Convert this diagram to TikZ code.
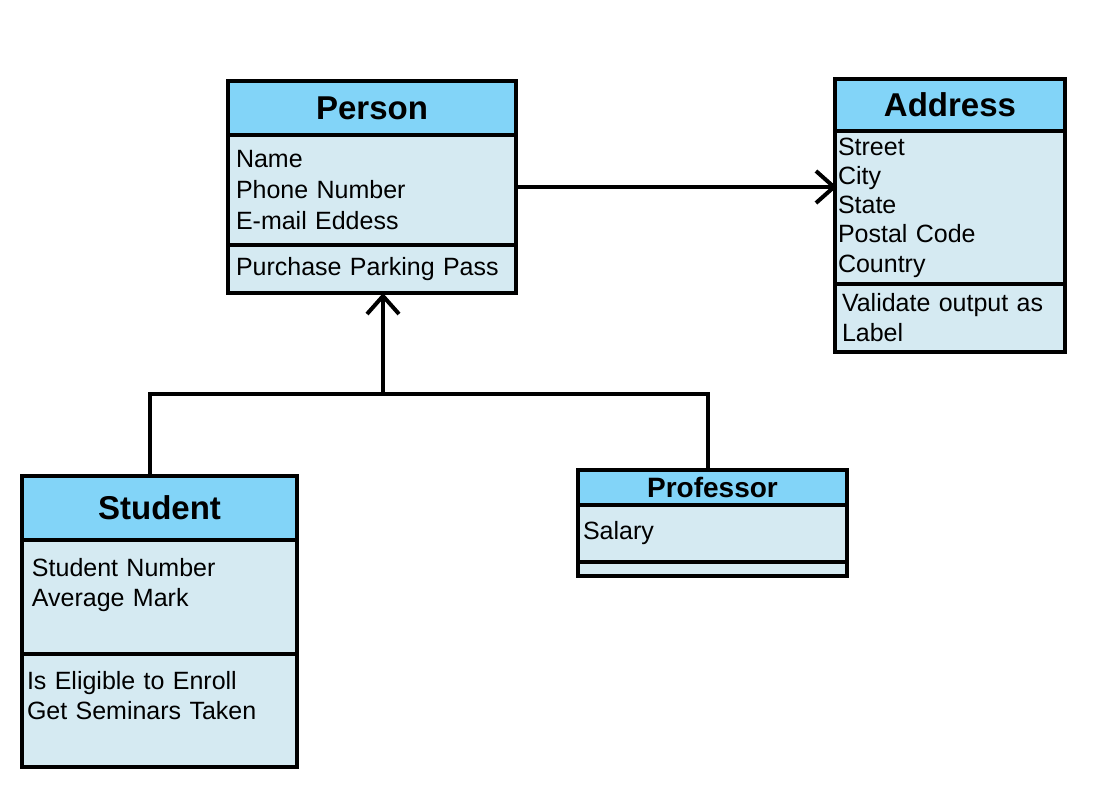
\documentclass[tikz,border=0pt]{standalone}
\usepackage{fontspec}
\setmainfont{Liberation Sans}
\usetikzlibrary{arrows.meta,positioning}
\definecolor{hdrblue}{RGB}{130,212,248}
\definecolor{bodyblue}{RGB}{213,234,242}

\begin{document}
\begin{tikzpicture}[x=0.5pt, y=-0.5pt,
  hdr/.style={draw, line width=2pt, fill=hdrblue, anchor=north, inner sep=0pt,
    outer sep=0pt, font=\fontsize{16.5}{19}\selectfont\bfseries},
  part/.style={draw, line width=2pt, fill=bodyblue, align=left, anchor=north,
    inner ysep=0pt, outer sep=0pt, font=\fontsize{12.5}{15}\selectfont},
  arr/.style={-{Straight Barb[length=9pt,width=16pt]}, line width=2pt},
  link/.style={line width=2pt}
]
\useasboundingbox (0,0) rectangle (1093,799);

% Person
\node[hdr, minimum width=144pt, minimum height=27pt] (phdr) at (372,81) {Person};
\node[part, below=0pt of phdr, text width=136pt, inner xsep=4pt,
  minimum height=55pt, font=\fontsize{12.5}{15.5}\selectfont] (pattr)
  {Name\\Phone Number\\E-mail Eddess};
\node[part, below=0pt of pattr, text width=136pt, inner xsep=4pt,
  minimum height=24pt] (pmeth) {Purchase Parking Pass};

% Address
\node[hdr, minimum width=115pt, minimum height=26pt] (ahdr) at (950,79) {Address};
\node[part, below=0pt of ahdr, text width=112pt, inner xsep=1.5pt,
  minimum height=76.5pt, font=\fontsize{12.5}{14.6}\selectfont] (aattr)
  {Street\\City\\State\\Postal Code\\Country};
\node[part, below=0pt of aattr, text width=108pt, inner xsep=3.5pt,
  minimum height=34pt] (ameth) {Validate output as\\Label};

% Student
\node[hdr, minimum width=137.5pt, minimum height=32pt] (shdr) at (159.5,476) {Student};
\node[part, below=0pt of shdr, text width=127.5pt, inner xsep=5pt,
  minimum height=57pt] (sattr) {Student Number\\Average Mark\\\mbox{}};
\node[part, below=0pt of sattr, text width=132.5pt, inner xsep=2.5pt,
  minimum height=56.5pt] (smeth) {Is Eligible to Enroll\\Get Seminars Taken\\\mbox{}};

% Professor
\node[hdr, minimum width=134.5pt, minimum height=17.5pt,
  font=\fontsize{14}{16}\selectfont\bfseries] (fhdr) at (712.5,470) {Professor};
\node[part, below=0pt of fhdr, text width=129.5pt, inner xsep=2.5pt,
  minimum height=28.5pt] (fattr) {Salary};
\node[part, below=0pt of fattr, text width=129.5pt, inner xsep=2.5pt,
  minimum height=7pt] (fmeth) {};

% connectors
\coordinate (link) at ([yshift=1.5pt]pattr.east);
\draw[arr] (link) -- ([xshift=1pt]link -| aattr.west);
\coordinate (fork) at (383,394);
\draw[arr] (fork) -- (fork |- pmeth.south);
\draw[link] ([xshift=-4.75pt]shdr.north) |- (fork) -| ([xshift=-2.25pt]fhdr.north);
\end{tikzpicture}
\end{document}
